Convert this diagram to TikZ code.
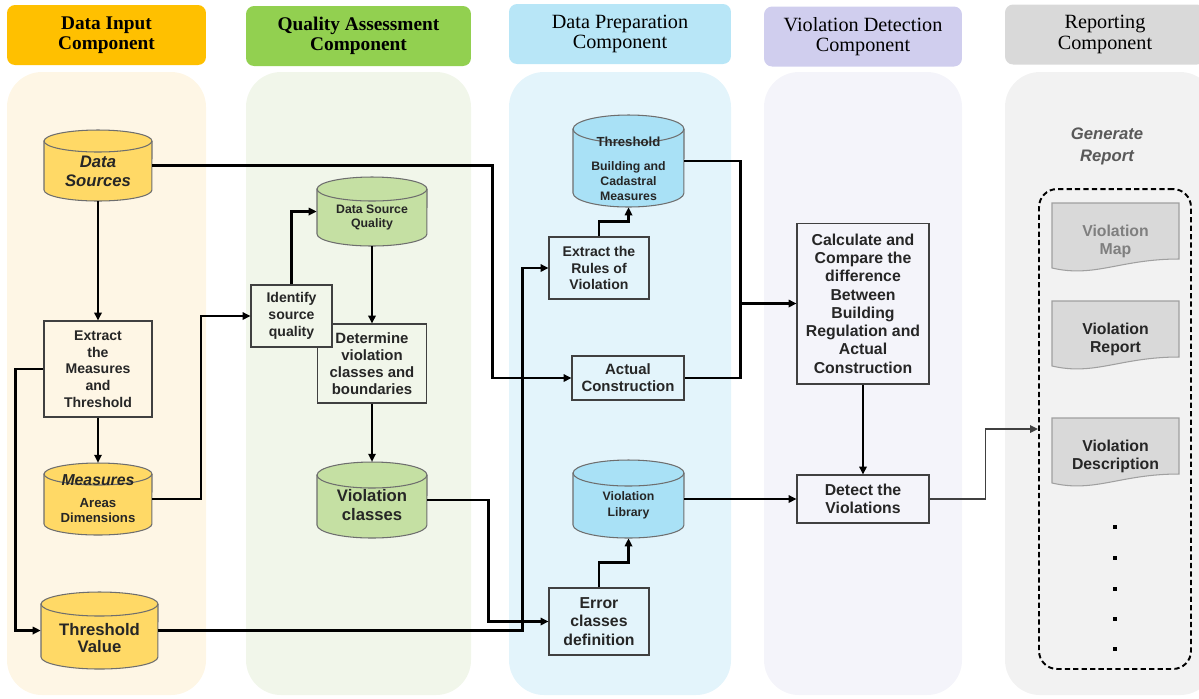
\documentclass[tikz,border=0pt]{standalone}
\usepackage{fontspec}
\setmainfont{Liberation Sans}
\newfontfamily\hdrfont{Liberation Serif}
\usetikzlibrary{arrows.meta,calc}

\definecolor{hdA}{HTML}{FFC000}
\definecolor{colA}{HTML}{FEF6E5}
\definecolor{hdB}{HTML}{92D050}
\definecolor{colB}{HTML}{F1F6EA}
\definecolor{hdC}{HTML}{B8E6F7}
\definecolor{colC}{HTML}{E3F4FB}
\definecolor{hdD}{HTML}{D0CEEE}
\definecolor{colD}{HTML}{F4F4FA}
\definecolor{hdE}{HTML}{D9D9D9}
\definecolor{colE}{HTML}{F2F2F2}
\definecolor{cylA}{HTML}{FFD966}
\definecolor{cylB}{HTML}{C5E0A3}
\definecolor{cylC}{HTML}{A9E1F6}
\definecolor{cylline}{HTML}{6E6E6E}
\definecolor{boxline}{HTML}{404040}
\definecolor{txt}{HTML}{262626}
\definecolor{docfill}{HTML}{D9D9D9}
\definecolor{docline}{HTML}{A0A0A0}
\definecolor{gentxt}{HTML}{595959}
\definecolor{maptxt}{HTML}{7F7F7F}

\newcommand{\fsz}[2]{\fontsize{#1}{#2}\selectfont}

% database drum: name, x, y, width, height, ellipse radius, fill
\newcommand{\dbcyl}[7]{%
  \pgfmathsetmacro{\cyL}{#2-#4/2}%
  \pgfmathsetmacro{\cyR}{#2+#4/2}%
  \pgfmathsetmacro{\cyT}{#3+#5/2-#6}%
  \pgfmathsetmacro{\cyB}{#3-#5/2+#6}%
  \pgfmathsetmacro{\cyRX}{#4*0.01}%
  \pgfmathsetmacro{\cyRY}{#6*0.02}%
  \filldraw[fill=#7, draw=cylline, line width=0.6pt] (\cyL,\cyT) -- (\cyL,\cyB)
    arc[start angle=180, end angle=360, x radius=\cyRX cm, y radius=\cyRY cm] -- (\cyR,\cyT)
    arc[start angle=0, end angle=180, x radius=\cyRX cm, y radius=\cyRY cm] -- cycle;
  \draw[cylline, line width=0.6pt] (\cyL,\cyT)
    arc[start angle=180, end angle=360, x radius=\cyRX cm, y radius=\cyRY cm];
  \node[minimum width=#4*0.02cm, minimum height=#5*0.02cm, inner sep=0pt] (#1) at (#2,#3) {};
}

% report page with wavy bottom: name, top, text, text colour
\newcommand{\repdoc}[4]{%
  \filldraw[fill=docfill, draw=docline, line width=0.6pt] (1052,-#2) -- (1179,-#2) -- (1179,-#2-56)
    .. controls (1120,-#2-56) and (1095,-#2-75) .. (1052,-#2-65) -- cycle;
  \node[font=\bfseries\fsz{9}{10.2}, text=#4, align=center] (#1) at (1115.5,-#2-38) {#3};
}

\begin{document}
\begin{tikzpicture}[x=0.02cm, y=0.02cm,
  hdr/.style={rounded corners=0.16cm, minimum height=1.2cm, align=center, inner sep=0pt, text=black, font=\hdrfont\fsz{11.5}{11.5}},
  hdrb/.style={hdr, font=\hdrfont\bfseries\fsz{11}{11.5}},
  procbox/.style={draw=boxline, line width=0.6pt, align=center, inner sep=0pt, text=txt, font=\bfseries\fsz{8}{9.5}},
  cyltext/.style={align=center, inner sep=0pt, text=txt},
  conn/.style={line width=1.3pt, black},
  arr/.style={conn, -{Triangle[length=4.5pt,width=4.2pt]}},
]
\useasboundingbox (0,0) rectangle (1199,-698);

% columns
\fill[colA, rounded corners=0.7cm] (7,-72) rectangle (206,-695);
\fill[colB, rounded corners=0.7cm] (246,-72) rectangle (471,-695);
\fill[colC, rounded corners=0.7cm] (509,-72) rectangle (731,-695);
\fill[colD, rounded corners=0.7cm] (764,-72) rectangle (962,-695);
\fill[colE, rounded corners=0.7cm] (1005,-72) rectangle (1215,-695);

% headers
\node[hdrb, fill=hdA, minimum width=3.98cm] (hin) at (106.5,-35) {Data Input\\Component};
\node[hdrb, fill=hdB, minimum width=4.5cm] (hqa) at (358.5,-36) {Quality Assessment\\Component};
\node[hdr, fill=hdC, minimum width=4.44cm] (hprep) at (620,-34) {Data Preparation\\Component};
\node[hdr, fill=hdD, minimum width=3.96cm] (hdet) at (863,-36.5) {Violation Detection\\Component};
\node[hdr, fill=hdE, minimum width=4cm] (hrep) at (1105,-34.5) {Reporting\\Component};

% data input
\dbcyl{ds}{98}{-165.5}{108}{71}{11}{cylA}
\node[cyltext, font=\bfseries\itshape\fsz{9.5}{10.8}] (dst) at ($(ds)+(0,-6)$) {Data\\Sources};
\node[procbox, fill=colA, minimum width=2.16cm, minimum height=1.92cm] (ext) at (98,-369) {Extract\\the\\Measures\\and\\Threshold};
\dbcyl{meas}{98}{-499}{108}{72}{11}{cylA}
\node[cyltext, font=\bfseries\fsz{7.5}{9}] (meast) at (meas) {{\bfseries\itshape\fsz{9}{10}Measures}\\[3pt]Areas\\Dimensions};
\dbcyl{thv}{99.5}{-630.5}{117}{77}{12}{cylA}
\node[cyltext, font=\bfseries\fsz{9.5}{10.2}] (thvt) at ($(thv)+(0,-7.5)$) {Threshold\\Value};

% quality assessment
\dbcyl{dsq}{372}{-211.5}{110}{69}{12}{cylB}
\node[cyltext, font=\bfseries\fsz{7}{8}] (dsqt) at ($(dsq)+(0,-5.5)$) {Data Source\\Quality};
\node[procbox, fill=colB, minimum width=2.18cm, minimum height=1.58cm, font=\bfseries\fsz{8.5}{9.6}] (det) at (372,-363.5) {Determine\\violation\\classes and\\boundaries};
\node[procbox, fill=colB, minimum width=1.62cm, minimum height=1.24cm, font=\bfseries\fsz{8}{9.6}] (idq) at (291.5,-316) {Identify\\source\\quality};
\dbcyl{vcl}{372}{-500}{110}{76}{13}{cylB}
\node[cyltext, font=\bfseries\fsz{9.5}{10.8}] (vclt) at ($(vcl)+(0,-5.5)$) {Violation\\classes};

% data preparation
\dbcyl{thr}{628.5}{-161}{111}{92}{14}{cylC}
\node[cyltext, font=\bfseries\fsz{7}{8.5}] (thrt) at ($(thr)+(0,-7.5)$) {{\bfseries\fsz{7.5}{8.5}Threshold}\\[5pt]Building and\\Cadastral\\Measures};
\node[procbox, fill=colC, minimum width=2cm, minimum height=1.24cm, font=\bfseries\fsz{8}{9.4}] (rul) at (599,-268) {Extract the\\Rules of\\Violation};
\node[procbox, fill=colC, minimum width=2.24cm, minimum height=0.88cm, font=\bfseries\fsz{8.5}{9.6}] (act) at (628,-378) {Actual\\Construction};
\dbcyl{lib}{628.5}{-499}{111}{78}{13}{cylC}
\node[cyltext, font=\bfseries\fsz{7}{9}] (libt) at ($(lib)+(0,-6)$) {Violation\\Library};
\node[procbox, fill=colC, minimum width=2cm, minimum height=1.34cm, font=\bfseries\fsz{9}{10.4}] (err) at (599,-621.5) {Error\\classes\\definition};

% violation detection
\node[procbox, fill=colD, minimum width=2.64cm, minimum height=3.22cm, font=\bfseries\fsz{9}{10.4}] (cal) at (863,-303.5) {Calculate and\\Compare the\\difference\\Between\\Building\\Regulation and\\Actual\\Construction};
\node[procbox, fill=colD, minimum width=2.64cm, minimum height=0.96cm, font=\bfseries\fsz{9}{10.2}] (dtc) at (863,-499) {Detect the\\Violations};

% reporting
\node[font=\bfseries\itshape\fsz{9.5}{12.5}, text=gentxt, align=center] (gen) at (1107,-146) {Generate\\Report};
\node[draw=black, dashed, dash pattern=on 3pt off 1.8pt, line width=1.1pt, rounded corners=0.36cm, minimum width=3.04cm, minimum height=9.6cm] (rep) at (1115,-429) {};
\repdoc{dmap}{203}{Violation\\Map}{maptxt}
\repdoc{drep}{301}{Violation\\Report}{txt}
\repdoc{ddes}{418}{Violation\\Description}{txt}
\foreach \dy in {527,558,589,619,649}
  \fill (1113,-\dy+2) rectangle (1117,-\dy-2);

% connectors
\draw[arr] (ds) -- (ext);
\draw[arr] (ds.east) -| ($(act.west)+(-79,0)$) -- (act.west);
\draw[arr] (ext) -- (meas);
\draw[arr] (ext.west) -- ++(-28,0) |- (thv.west);
\draw[arr] (meas.east) -- ++(49,0) |- (idq.west);
\draw[arr] (idq.north) |- (dsq.west);
\draw[arr] (dsq) -- (det);
\draw[arr] (det) -- (vcl);
\draw[arr] (vcl.east) -- ++(61,0) |- (err.west);
\draw[arr] (thv.east) -| ($(rul.west)+(-26,0)$) -- (rul.west);
\draw[arr] (rul.north) -- ++(0,15) -| (thr.south);
\draw[arr] (err.north) -- ++(0,25) -| (lib.south);
\coordinate (mrg) at ($(act.east)+(56,0)$);
\draw[conn] (thr.east) -| (mrg) -- (act.east);
\draw[arr] (mrg |- cal.west) -- (cal.west);
\draw[arr] (cal) -- (dtc);
\draw[arr] (lib.east) -- (dtc.west);
\draw[arr, line width=0.9pt, boxline] (dtc.east) -- ++(56,0) |- (rep.west);
\end{tikzpicture}
\end{document}
